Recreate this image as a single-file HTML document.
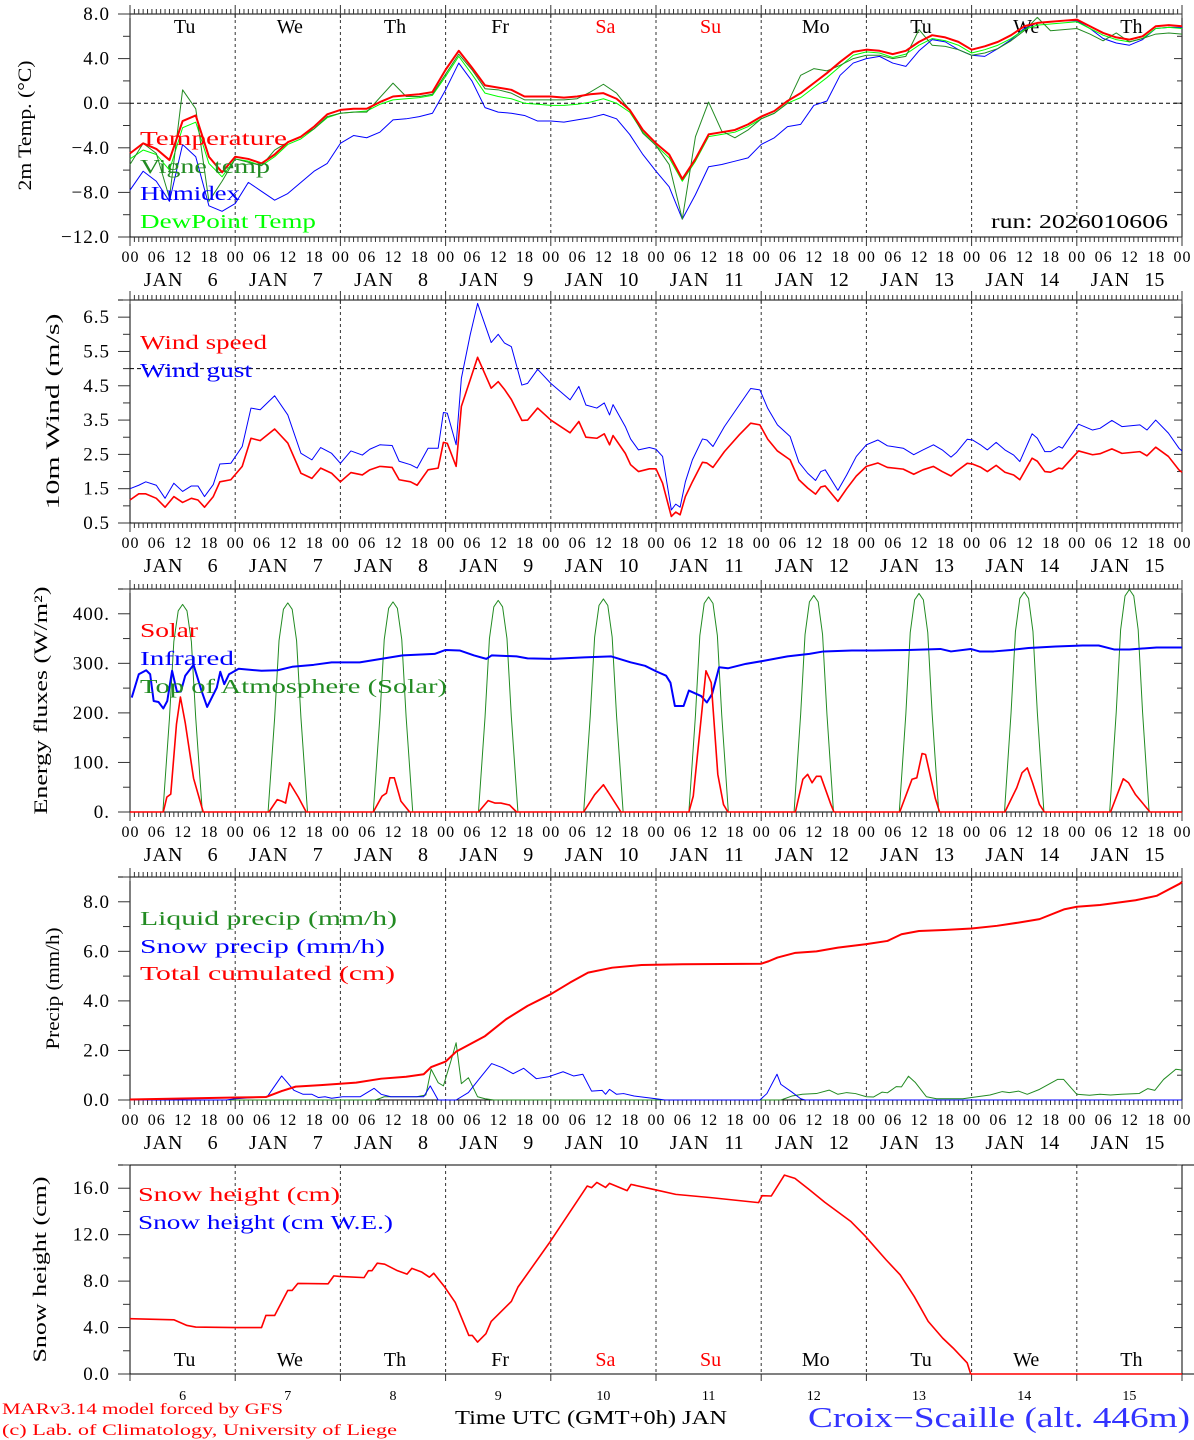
<!DOCTYPE html>
<html><head><meta charset="utf-8"><title>MAR meteogram Croix-Scaille</title>
<style>
html,body{margin:0;padding:0;background:#fff;}
svg{display:block;font-family:"Liberation Serif","DejaVu Serif",serif;}
</style></head>
<body>
<svg id="chart" width="1194" height="1440" viewBox="0 0 1194 1440" xmlns="http://www.w3.org/2000/svg"></svg>
<script>
// ---------- DATA ----------
const dayNames = ["Tu","We","Th","Fr","Sa","Su","Mo","Tu","We","Th"];
const dayNums = ["6","7","8","9","10","11","12","13","14","15"];
const hourLabels = ["00","06","12","18"];

const tempHours = [0,3,6,9,12,15,18,21,24,27,30,33,36,39,42,45,48,51,54,57,60,63,66,69,72,75,78,81,84,87,90,93,96,99,102,105,108,111,114,117,120,123,126,129,132,135,138,141,144,147,150,153,156,159,162,165,168,171,174,177,180,183,186,189,192,195,198,201,204,207,210,213,216,219,222,225,228,231,234,237,240];
const tempVals = [-4.5,-3.6,-4.1,-5.1,-1.6,-1.1,-4.8,-6.2,-4.8,-5.0,-5.4,-4.6,-3.5,-3.0,-2.1,-1.0,-0.6,-0.5,-0.5,0.1,0.6,0.7,0.8,1.0,3.0,4.7,3.2,1.6,1.4,1.2,0.6,0.6,0.6,0.5,0.6,0.8,0.9,0.4,-0.6,-2.4,-3.6,-4.6,-6.8,-5.0,-2.8,-2.6,-2.4,-1.9,-1.2,-0.7,0.2,0.9,1.8,2.7,3.7,4.6,4.8,4.7,4.4,4.7,5.5,6.1,5.9,5.5,4.8,5.1,5.5,6.1,6.9,7.2,7.3,7.4,7.5,6.9,6.3,5.9,5.7,6.0,6.9,7.0,6.9];
const vigneVals = [-5.5,-3.6,-4.5,-8.5,1.2,-0.5,-8.8,-7.0,-5.0,-5.3,-5.6,-4.2,-3.5,-3.0,-2.3,-1.2,-0.9,-0.8,-0.8,0.5,1.8,0.6,0.6,0.8,2.6,4.4,3.0,1.3,1.2,0.9,0.3,0.3,0.3,0.3,0.4,1.0,1.7,0.9,-0.6,-2.7,-3.8,-5.5,-10.4,-3.0,0.1,-2.5,-3.1,-2.4,-1.4,-0.9,0.0,2.5,3.1,2.9,3.4,4.0,4.3,4.3,4.0,4.2,6.6,5.2,5.1,4.8,4.3,4.5,4.9,5.6,6.5,7.7,6.5,6.6,6.7,6.2,5.6,6.3,5.5,5.8,6.2,6.3,6.2];
const humidexVals = [-7.8,-6.1,-7.0,-8.8,-3.7,-4.8,-9.2,-9.7,-9.0,-7.1,-7.9,-8.7,-8.1,-7.1,-6.1,-5.4,-3.6,-2.9,-3.1,-2.6,-1.5,-1.4,-1.2,-0.9,1.2,3.6,2.0,-0.4,-0.8,-0.9,-1.1,-1.6,-1.6,-1.7,-1.5,-1.3,-1.0,-1.4,-2.8,-4.6,-6.1,-7.5,-10.4,-8.2,-5.7,-5.5,-5.2,-4.9,-3.7,-3.1,-2.1,-1.9,-0.2,0.2,2.5,3.6,4.0,4.2,3.6,3.3,4.7,5.7,5.5,4.8,4.3,4.2,4.9,5.7,6.7,7.2,7.3,7.4,7.4,6.7,5.8,5.4,5.2,5.7,6.7,6.8,6.8];
const dewVals = [-5.0,-4.2,-4.6,-6.0,-2.2,-1.7,-5.4,-6.6,-5.0,-5.2,-5.6,-4.8,-3.7,-3.2,-2.3,-1.3,-0.9,-0.8,-0.7,-0.1,0.3,0.4,0.5,0.7,2.4,4.2,2.6,0.9,0.6,0.4,0.0,-0.1,-0.2,-0.2,-0.1,0.1,0.4,0.0,-0.8,-2.6,-3.8,-4.9,-7.0,-5.2,-3.0,-2.8,-2.6,-2.1,-1.4,-0.9,0.0,0.5,1.4,2.3,3.3,4.3,4.6,4.5,4.1,4.4,5.2,5.8,5.6,5.2,4.5,4.8,5.2,5.8,6.6,7.0,7.1,7.2,7.3,6.7,6.1,5.7,5.5,5.8,6.7,6.8,6.7];

const windHours = [0,2,3.6,6,8,10,12,14,15.5,17,19,20.5,23,25.6,27.6,29.7,33,36,39,41.5,43.5,46,48,50.4,53,54.7,57,59.8,61.4,64,65.5,68,70.3,71.5,72.4,74.4,75.6,77.6,79.3,82.4,84,85.4,87,89.4,90.7,93,96,100.4,102.4,104,106.5,108.2,109.4,110.2,113,114.2,116,118.5,120,121.5,123.5,124.5,125.5,126.7,128.3,130.6,131.6,133,135.6,139,141.6,143.7,145.5,147.7,150.6,152.6,154.6,156.4,157.6,158.6,161.5,163.5,165.7,168,170.6,172.8,176.4,178.8,180.9,183.3,185.3,187.3,188.5,191,192.2,194,195.6,197.6,199.6,201.6,203,205.8,207,208.7,210,211.9,212.7,216.4,219.6,221.3,224,226.3,230.4,232,234,236.9,239.3,240];
const windSpeed = [1.17,1.35,1.35,1.22,0.96,1.27,1.1,1.22,1.17,0.96,1.27,1.7,1.76,2.15,2.97,2.9,3.24,2.83,1.95,1.8,2.1,1.95,1.7,1.97,1.9,2.05,2.15,2.12,1.76,1.7,1.6,2.05,2.1,2.85,2.82,2.15,3.9,4.67,5.33,4.43,4.62,4.4,4.1,3.49,3.5,3.85,3.5,3.13,3.46,3.0,2.97,3.1,2.78,3.05,2.53,2.2,2.0,2.08,2.08,1.66,0.69,0.82,0.74,1.27,1.7,2.27,2.25,2.12,2.58,3.07,3.41,3.36,2.94,2.6,2.34,1.76,1.52,1.34,1.55,1.58,1.13,1.5,1.87,2.15,2.25,2.12,2.07,1.92,2.05,2.15,2.0,1.87,2.0,2.24,2.22,2.13,2.0,2.18,1.98,1.9,1.76,2.39,2.3,2.0,1.98,2.1,2.08,2.6,2.49,2.52,2.66,2.53,2.58,2.46,2.71,2.44,2.05,1.98];
const windGust = [1.5,1.6,1.7,1.6,1.22,1.66,1.42,1.58,1.58,1.27,1.62,2.22,2.24,2.73,3.85,3.8,4.21,3.65,2.53,2.34,2.7,2.53,2.24,2.6,2.48,2.65,2.78,2.76,2.3,2.2,2.1,2.68,2.68,3.72,3.7,2.78,4.72,5.98,6.9,5.76,6.0,5.75,5.64,4.52,4.57,4.98,4.57,4.09,4.48,3.94,3.85,4.0,3.65,3.95,3.31,2.95,2.63,2.7,2.65,2.44,0.88,1.05,0.96,1.7,2.34,2.95,2.92,2.73,3.31,3.94,4.42,4.38,3.84,3.36,3.02,2.27,1.95,1.74,2.0,2.05,1.45,1.9,2.44,2.78,2.92,2.75,2.68,2.49,2.63,2.78,2.63,2.42,2.55,2.94,2.92,2.78,2.63,2.85,2.63,2.48,2.29,3.1,2.97,2.58,2.58,2.73,2.68,3.38,3.21,3.26,3.49,3.31,3.36,3.21,3.5,3.12,2.68,2.6];

const solarHours = [0,7.6,8.4,9.3,10.6,11.5,12.6,14.5,16.7, 31.7,33.6,34.6,35.5,36.4,38.4,40.2, 55.5,57.5,58.5,59.3,60.3,61.8,63.8, 79.5,81.7,83.3,84.6,86.6,88.2, 103.5,106,108,109.7,112, 127.5,128.5,131.4,132.6,134.1,135.4,136.4, 151.8,153.5,154.6,155.6,156.6,157.6,159.9,160.6, 175.6,178.4,179.5,180.7,181.5,183.7,184.7, 199.6,202.3,203.5,204.7,205.9,207.5,208.6, 223.7,226.6,227.8,229.4,232.7,240];
const solarVals = [0,0,30,36,177,232,180,68,0, 0,25,22,18,59,30,0, 0,32,38,69,69,22,0, 0,23,18,18,14,0, 0,35,55,32,0, 0,32,285,261,76,15,0, 0,66,76,59,72,72,15,0, 0,66,69,118,116,28,0, 0,49,79,89,59,15,0, 0,67,59,35,0,0];
const irHours = [0.4,2,3.7,4.6,5.4,6.5,7.6,8.5,9.6,10.7,11.6,12.6,14.5,16.3,17.6,19.8,20.6,21.5,22.6,24.8,30,33.7,37,41.9,46,52.4,57.3,62.2,69.5,72,75.2,78.5,81.3,82.5,88.2,90.7,96.3,103.6,109.8,114.2,117.5,120,122.3,123.3,124.3,126.3,127.5,130.3,131.6,132.8,134.4,136.4,140.5,144.5,150,155,158.2,164.7,169.6,177.6,184.9,187.3,191.8,193.8,197,201,205,211.2,217.3,221,224.5,228,234.2,240];
const irVals = [231,278,286,278,224,222,209,224,285,243,243,275,297,245,212,251,283,258,278,289,285,286,293,297,302,302,309,316,319,327,326,316,309,316,314,310,309,312,314,302,295,284,275,261,214,214,245,234,221,238,292,290,299,305,314,319,324,326,326,327,329,324,329,324,324,327,331,334,336,336,328,328,332,332];
const toaHours = [0,7.5,9,10,11,12,13,14,15,16.5, 31.5,33,34,35,36,37,38,39,40.5, 55.5,57,58,59,60,61,62,63,64.5, 79.5,81,82,83,84,85,86,87,88.5, 103.5,105,106,107,108,109,110,111,112.5, 127.5,129,130,131,132,133,134,135,136.5, 151.5,153,154,155,156,157,158,159,160.5, 175.5,177,178,179,180,181,182,183,184.5, 199.5,201,202,203,204,205,206,207,208.5, 223.5,225,226,227,228,229,230,231,232.5, 240];
const toaVals = [0,0,189,344,406,419,406,344,189,0, 0,190,346,409,422,409,346,190,0, 0,191,348,411,424,411,348,191,0, 0,192,350,414,427,414,350,192,0, 0,194,353,417,430,417,353,194,0, 0,195,356,421,434,421,356,195,0, 0,197,358,424,437,424,358,197,0, 0,198,362,428,441,428,362,198,0, 0,200,364,431,444,431,364,200,0, 0,202,368,436,449,436,368,202,0, 0];

const liquidHours = [0,56,58,65.4,67.5,68.7,70.3,71.5,73.2,74.4,75.6,77.2,79.3,81,83,148.5,151,153.4,156.6,159.5,161.5,163.5,165.5,168,169.6,171.6,172.8,174.8,176,177.6,179.2,181.7,184,190,192,196.2,199,200.6,202.7,204.7,207.5,211.6,213,216,218.9,221.3,223.7,226.2,230.2,232.2,233.8,235.8,238.6,239.5,240];
const liquidVals = [0,0,0.13,0.13,0.2,1.24,0.7,0.57,1.57,2.31,0.66,0.9,0.13,0.05,0,0,0.16,0.23,0.26,0.4,0.23,0.3,0.26,0.13,0.12,0.32,0.29,0.54,0.53,0.96,0.7,0.13,0.05,0.05,0.1,0.2,0.34,0.3,0.36,0.23,0.43,0.83,0.83,0.23,0.19,0.23,0.2,0.23,0.26,0.46,0.39,0.83,1.24,1.22,1.2];
const snowPrHours = [0,22,24,31.3,34.6,37.4,39.5,41.5,43,44.5,46,48.5,52.5,55.7,57.3,59.5,64,67,68.5,70.3,74.4,77.2,79.3,82.5,84.9,87.4,89.8,92.7,95.5,98.8,101.2,103.3,105.3,107.7,108.5,109.4,111,112.6,115,120,122,143.7,145.3,147.6,148.5,151,153,154,240];
const snowPrVals = [0,0,0.05,0.13,0.97,0.39,0.23,0.23,0.1,0.13,0.07,0.13,0.13,0.47,0.23,0.13,0.13,0.13,0.57,0,0,0.3,0.77,1.47,1.31,1.06,1.28,0.86,0.94,1.14,0.97,1.04,0.36,0.39,0.23,0.43,0.23,0.26,0.16,0.05,0,0,0.26,1.04,0.63,0.32,0.05,0,0];
const totalHours = [0,24,31,34.6,37.8,43.5,51.6,57.3,63,67,68.7,72,74.4,76.8,81,85.8,90.7,96,100.4,104.5,110,116.7,126,144,145.7,147.7,151.8,156.6,161.5,168,172.8,176,180,185.7,192,197.8,202.7,207.5,213.2,216,221.3,229.4,234.2,239.5,240];
const totalVals = [0.02,0.1,0.12,0.36,0.54,0.6,0.7,0.86,0.94,1.04,1.33,1.55,1.95,2.18,2.58,3.26,3.8,4.27,4.74,5.14,5.34,5.45,5.48,5.5,5.6,5.75,5.94,6.0,6.15,6.29,6.42,6.69,6.82,6.86,6.92,7.03,7.16,7.3,7.7,7.8,7.87,8.06,8.24,8.73,8.8];

const snowHours = [0,10,13,15,24,30,31,33,36,37,38.3,45.2,46.5,47.8,53.4,54.4,55.2,56.4,58.1,61,63.2,64.3,66.6,68.3,69.3,71.7,74.2,77.3,78.1,79.3,81.2,82.4,87,88.5,95.6,104.3,105.3,106.5,108.5,109.4,113.4,114.3,120,124.5,132.5,143.4,144.2,146.3,149.3,151.7,154.9,158.5,164.5,167.7,172.5,175.7,178.9,182.1,185.4,187.8,191,191.8,240];
const snowVals = [4.76,4.67,4.18,4.04,4.0,4.0,5.04,5.04,7.2,7.2,7.8,7.77,8.45,8.4,8.3,8.9,8.9,9.54,9.46,8.9,8.6,9.1,8.77,8.34,8.68,7.54,6.16,3.32,3.32,2.75,3.47,4.53,6.25,7.48,11.26,16.19,16.05,16.5,16.07,16.42,15.79,16.33,15.85,15.47,15.19,14.76,15.36,15.33,17.13,16.85,15.9,14.79,13.12,11.89,9.83,8.54,6.68,4.53,3.09,2.23,0.95,0,0];

// ---------- DRAWING ----------
const NS = "http://www.w3.org/2000/svg";
const svg = document.getElementById("chart");
const X0 = 130, X1 = 1182, TMAX = 240;
function xs(t){ return X0 + t*(X1-X0)/TMAX; }
function mk(tag, attrs, parent){
  const e = document.createElementNS(NS, tag);
  for (const k in attrs) e.setAttribute(k, attrs[k]);
  (parent||svg).appendChild(e);
  return e;
}
function line(x1,y1,x2,y2,st,parent){ return mk("line",{x1:x1,y1:y1,x2:x2,y2:y2,stroke:st||"#000","stroke-width":1},parent); }
function txt(x,y,s,opt,parent){
  const e = mk("text",Object.assign({x:x,y:y},opt||{}),parent);
  e.textContent = s;
  return e;
}

const panels = [
  {name:"temperature-panel", top:14, bot:237, min:-12, max:8, labels:[-12,-8,-4,0,4,8], minor:2, fmt:v=>v.toFixed(1).replace("-","\u2212"), title:"2m Temp. (\u00B0C)", tx:31, tl:130, hours:true},
  {name:"wind-panel", top:300, bot:523, min:0.5, max:7.0, labels:[0.5,1.5,2.5,3.5,4.5,5.5,6.5], minor:0.5, fmt:v=>v.toFixed(1), title:"10m Wind (m/s)", tx:59, tl:196, hours:true},
  {name:"energy-flux-panel", top:589, bot:812, min:0, max:450, labels:[0,100,200,300,400], minor:50, fmt:v=>v+".", title:"Energy fluxes (W/m\u00B2)", tx:47, tl:228, hours:true},
  {name:"precip-panel", top:877, bot:1100, min:0, max:9, labels:[0,2,4,6,8], minor:1, fmt:v=>v.toFixed(1), title:"Precip (mm/h)", tx:59, tl:122, hours:true},
  {name:"snow-panel", top:1165, bot:1374, min:0, max:18, labels:[0,4,8,12,16], minor:2, fmt:v=>v.toFixed(1), title:"Snow height (cm)", tx:46, tl:186, hours:false}
];
panels.forEach(p=>{ p.ys = v => p.bot - (v-p.min)*(p.bot-p.top)/(p.max-p.min); });

panels.forEach((p,pi)=>{
  const g = mk("g",{});
  
  
  for (let d=1; d<10; d++){
    const l = line(xs(d*24),p.top,xs(d*24),p.bot,"#000",g);
    l.setAttribute("stroke-dasharray","3,3"); l.setAttribute("stroke-opacity","0.8");
  }
  line(118,p.top,X1+(p.hours?0:12),p.top,"#000",g);
  line(118,p.bot,X1+(p.hours?0:12),p.bot,"#000",g);
  line(X0,p.top,X0,p.bot,"#000",g);
  line(X1,p.top,X1,p.bot,"#000",g);
  if (p.hours){
    for (let h=0; h<=240; h++){
      const x = xs(h);
      const big = h%24===0;
      const len = big?9:5;
      line(x,p.top-len,x,p.top+(big?4:0),"#333",g);
      line(x,p.bot,x,p.bot+len,"#333",g);
    }
    const hl = mk("g",{"font-size":"16","text-anchor":"middle","letter-spacing":"1"},g);
    
    
    for (let h=0; h<=240; h+=6){
      txt(xs(h)+0.5, p.bot+25, hourLabels[(h/6)%4], {}, hl);
    }
    const dl = mk("g",{"font-size":"20"},g);
    
    
    for (let d=0; d<10; d++){
      const c = xs(d*24+12);
      txt(c-19, p.bot+49, "JAN", {"text-anchor":"middle","letter-spacing":"1"}, dl);
      txt(c+35, p.bot+49, dayNums[d], {"text-anchor":"end"}, dl);
    }
  } else {
    for (let d=0; d<=10; d++){ line(xs(d*24),p.bot,xs(d*24),p.bot+7,"#333",g); }
    const dl = mk("g",{"font-size":"14","text-anchor":"middle"},g);
    
    
    for (let d=0; d<10; d++) txt(xs(d*24+12), p.bot+26, dayNums[d], {}, dl);
  }
  for (let v=p.min; v<=p.max+1e-9; v+=p.minor){
    const y = p.ys(v);
    const lab = p.labels.some(l=>Math.abs(l-v)<1e-6);
    line(lab?118:123,y,X0,y,"#333",g);
    line(X1-(lab?8:5),y,X1,y,"#333",g);
  }
  const yl = mk("g",{"font-size":"19","text-anchor":"end","letter-spacing":"1"},g);
  
  
  p.labels.forEach(v=>{ txt(110, p.ys(v)+6, p.fmt(v), {}, yl); });
  const cy = (p.top+p.bot)/2;
  const t = txt(p.tx, cy, p.title, {"font-size":"19","text-anchor":"middle",textLength:p.tl,lengthAdjust:"spacingAndGlyphs","transform":"rotate(-90 "+p.tx+" "+cy+")"}, g);
  
  
});

[[0,0],[1,5.0]].forEach(([pi,v])=>{
  const p = panels[pi];
  const l = line(X0,p.ys(v),X1,p.ys(v),"#000");
  l.setAttribute("stroke-dasharray","4,3");
  
  
});

function dayLabels(y, name){
  const g = mk("g",{"font-size":"20","text-anchor":"middle"});
  
  
  for (let d=0; d<10; d++){
    const w = (d===4||d===5);
    txt(xs(d*24+12)+2, y, dayNames[d], {fill: w?"#ff0000":"#000"}, g);
  }
}
dayLabels(33, "weekday-labels-top");
dayLabels(1366, "weekday-labels-snow");

function series(p, hours, vals, color, width, name){
  const n = Math.min(hours.length, vals.length);
  let d = "";
  for (let i=0;i<n;i++){
    const v = Math.max(p.min, Math.min(p.max, vals[i]));
    d += (i?"L":"M")+xs(hours[i]).toFixed(2)+","+p.ys(v).toFixed(2);
  }
  const e = mk("path",{d:d,fill:"none",stroke:color,"stroke-width":width,"stroke-linejoin":"round"});
  
  
  return e;
}
const P = panels;
series(P[0], tempHours, humidexVals, "#0000ff", 1, "humidex-line");
series(P[0], tempHours, dewVals, "#00ff00", 1, "dewpoint-line");
series(P[0], tempHours, vigneVals, "#228b22", 1, "vigne-temp-line");
series(P[0], tempHours, tempVals, "#ff0000", 2, "temperature-line");
series(P[1], windHours, windGust, "#0000ff", 1, "wind-gust-line");
series(P[1], windHours, windSpeed, "#ff0000", 1.6, "wind-speed-line");
series(P[2], toaHours, toaVals, "#228b22", 1, "toa-solar-line");
series(P[2], irHours, irVals, "#0000ff", 2, "infrared-line");
series(P[2], solarHours, solarVals, "#ff0000", 1.6, "solar-line");
series(P[3], liquidHours, liquidVals, "#228b22", 1, "liquid-precip-line");
series(P[3], snowPrHours, snowPrVals, "#0000ff", 1, "snow-precip-line");
series(P[3], totalHours, totalVals, "#ff0000", 2, "total-cumulated-line");
series(P[4], snowHours, snowVals, "#ff0000", 1.6, "snow-height-line");

function legend(x, y, s, color, w, name){
  const e = txt(x, y, s, {fill:color, "font-size":"20", textLength:w, lengthAdjust:"spacingAndGlyphs"});
  
  
  return e;
}
legend(140,145,"Temperature","#ff0000",147,"legend-temperature");
legend(140,173,"Vigne temp","#228b22",130,"legend-vigne-temp");
legend(140,200,"Humidex","#0000ff",100,"legend-humidex");
legend(140,228,"DewPoint Temp","#00ff00",176,"legend-dewpoint");
legend(991,228,"run: 2026010606","#000",177,"run-label");
legend(140,349,"Wind speed","#ff0000",127,"legend-wind-speed");
legend(140,377,"Wind gust","#0000ff",112,"legend-wind-gust");
legend(140,637,"Solar","#ff0000",58,"legend-solar");
legend(140,665,"Infrared","#0000ff",94,"legend-infrared");
legend(140,693,"Top of Atmosphere (Solar)","#228b22",307,"legend-toa");
legend(140,925,"Liquid precip (mm/h)","#228b22",257,"legend-liquid-precip");
legend(140,953,"Snow precip (mm/h)","#0000ff",245,"legend-snow-precip");
legend(140,980,"Total cumulated (cm)","#ff0000",255,"legend-total-cumulated");
legend(138,1201,"Snow height (cm)","#ff0000",202,"legend-snow-height");
legend(138,1229,"Snow height (cm W.E.)","#0000ff",255,"legend-snow-we");

const f1 = txt(2,1414,"MARv3.14 model forced by GFS",{fill:"#ff0000","font-size":"16",textLength:281,lengthAdjust:"spacingAndGlyphs"});


const f2 = txt(2,1435,"(c) Lab. of Climatology, University of Liege",{fill:"#ff0000","font-size":"16",textLength:395,lengthAdjust:"spacingAndGlyphs"});


const f3 = txt(455,1424,"Time UTC (GMT+0h) JAN",{fill:"#000","font-size":"20",textLength:272,lengthAdjust:"spacingAndGlyphs"});


const f4 = txt(808,1427,"Croix\u2212Scaille (alt. 446m)",{fill:"#3333ff","font-size":"28",textLength:382,lengthAdjust:"spacingAndGlyphs"});


</script>
</body></html>
